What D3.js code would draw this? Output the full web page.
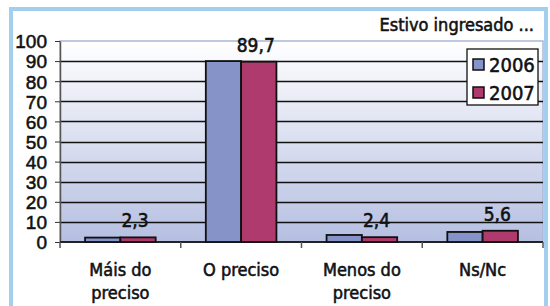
<!DOCTYPE html>
<html>
<head>
<meta charset="utf-8">
<script src="https://cdn.jsdelivr.net/npm/d3@7"></script>
<style>
  body { margin: 0; background: #fff; }
  svg { display: block; font-family: "Liberation Sans Narrow", "DejaVu Sans Condensed", sans-serif; }
  svg text { stroke: #111; stroke-width: 0.55px; }
</style>
</head>
<body>
<div id="viz"></div>
<script>
const categories = [['Máis do', 'preciso'], ['O preciso'], ['Menos do', 'preciso'], ['Ns/Nc']];
const years = ['2006', '2007'];
const values2006 = [2.2, 90.0, 3.5, 5.0];
const values2007 = [2.3, 89.7, 2.4, 5.6];
const labels2007 = ['2,3', '89,7', '2,4', '5,6'];
const yTicks = [0, 10, 20, 30, 40, 50, 60, 70, 80, 90, 100];
const title = 'Estivo ingresado ...';

const width = 550;
const height = 306;
const margin = {top: 41, right: 7, bottom: 64, left: 60};
const colors = ['#8593c9', '#af3a6d'];

const svg = d3.select('#viz')
  .append('svg')
    .attr('width', width)
    .attr('height', height);

// light blue frame
svg.append('rect')
  .attr('x', 11).attr('y', 9)
  .attr('width', 535).attr('height', 320)
  .attr('fill', 'none')
  .attr('stroke', '#a3cfee')
  .attr('stroke-width', 4);

const grad = svg.append('defs').append('linearGradient')
  .attr('id', 'bg').attr('x1', 0).attr('y1', 0).attr('x2', 0).attr('y2', 1);
grad.append('stop').attr('offset', 0).attr('stop-color', '#ffffff');
grad.append('stop').attr('offset', 1).attr('stop-color', '#b5bfe1');

const x0 = d3.scaleBand()
  .domain(d3.range(categories.length))
  .range([margin.left, width - margin.right]);
const x1 = d3.scaleBand()
  .domain(years)
  .range([0, x0.bandwidth()])
  .paddingOuter(0.71)
  .paddingInner(0);
const y = d3.scaleLinear()
  .domain([0, 100])
  .range([height - margin.bottom, margin.top]);

// plot background
svg.append('rect')
  .attr('x', margin.left).attr('y', margin.top)
  .attr('width', width - margin.right - margin.left)
  .attr('height', y(0) - margin.top)
  .attr('fill', 'url(#bg)')
  .attr('stroke', '#a9b6d4')
  .attr('stroke-width', 1.5);

// gridlines
svg.append('g')
  .selectAll('line')
  .data(yTicks.filter(d => d > 0 && d < 100))
  .join('line')
    .attr('x1', margin.left)
    .attr('x2', width - margin.right)
    .attr('y1', d => Math.round(y(d)) + 0.5)
    .attr('y2', d => Math.round(y(d)) + 0.5)
    .attr('stroke', '#111')
    .attr('stroke-width', 1.4);

// y axis
const yAxisGroup = svg.append('g')
  .attr('transform', `translate(${margin.left},0)`)
  .call(d3.axisLeft(y).tickValues(yTicks).tickSize(5).tickSizeOuter(0).tickPadding(8));
yAxisGroup.select('.domain').attr('stroke', '#555').attr('stroke-width', 1.5);
yAxisGroup.selectAll('.tick line').attr('stroke', '#333');
yAxisGroup.selectAll('.tick text')
  .attr('fill', '#111')
  .style('font-size', '19px')
  .attr('dy', '0.36em');

// x axis line and category ticks
const xAxisGroup = svg.append('g');
xAxisGroup.append('line')
  .attr('x1', margin.left).attr('x2', width - margin.right)
  .attr('y1', y(0)).attr('y2', y(0))
  .attr('stroke', '#222').attr('stroke-width', 1.8);
xAxisGroup.selectAll('.cat-tick')
  .data(d3.range(categories.length + 1))
  .join('line')
    .attr('class', 'cat-tick')
    .attr('x1', i => i < categories.length ? x0(i) : x0(i - 1) + x0.bandwidth())
    .attr('x2', i => i < categories.length ? x0(i) : x0(i - 1) + x0.bandwidth())
    .attr('y1', y(0)).attr('y2', y(0) + 6)
    .attr('stroke', '#555').attr('stroke-width', 1.5);

// category labels
xAxisGroup.selectAll('.cat-label')
  .data(categories)
  .join('text')
    .attr('class', 'cat-label')
    .attr('x', (d, i) => x0(i) + x0.bandwidth() / 2)
    .attr('y', 276)
    .attr('text-anchor', 'middle')
    .attr('fill', '#111')
    .style('font-size', '18px')
  .selectAll('tspan')
  .data(d => d)
  .join('tspan')
    .attr('x', function() { return d3.select(this.parentNode).attr('x'); })
    .attr('dy', (d, i) => i === 0 ? 0 : 23)
    .text(d => d);

// bars
const series = [values2006, values2007];
const barGroups = svg.append('g')
  .selectAll('g')
  .data(categories.map((c, i) => i))
  .join('g')
    .attr('transform', i => `translate(${x0(i)},0)`);
barGroups.selectAll('rect')
  .data(i => years.map((yr, k) => ({yr, k, v: series[k][i]})))
  .join('rect')
    .attr('x', d => x1(d.yr))
    .attr('y', d => y(d.v))
    .attr('width', x1.bandwidth())
    .attr('height', d => y(0) - y(d.v))
    .attr('fill', d => colors[d.k])
    .attr('stroke', '#111')
    .attr('stroke-width', 1.8);

// value labels on 2007
svg.append('g')
  .selectAll('text')
  .data(values2007)
  .join('text')
    .attr('x', (d, i) => x0(i) + x1('2007') + x1.bandwidth() / 2 - 3)
    .attr('y', d => y(d) - 10)
    .attr('text-anchor', 'middle')
    .attr('fill', '#111')
    .style('font-size', '19px')
    .text((d, i) => labels2007[i]);

// title
svg.append('text')
  .attr('x', 534).attr('y', 31)
  .attr('text-anchor', 'end')
  .attr('fill', '#111')
  .style('font-size', '18px')
  .text(title);

// legend
const legend = svg.append('g').attr('transform', 'translate(467,49)');
legend.append('rect')
  .attr('width', 71).attr('height', 56)
  .attr('fill', '#fff').attr('stroke', '#111').attr('stroke-width', 1.3);
const items = legend.selectAll('g')
  .data(years)
  .join('g')
    .attr('transform', (d, i) => `translate(6,${10 + i * 28})`);
items.append('rect')
  .attr('width', 11).attr('height', 11)
  .attr('fill', (d, i) => colors[i])
  .attr('stroke', '#111').attr('stroke-width', 1.5);
items.append('text')
  .attr('x', 16).attr('y', 6)
  .attr('dy', '0.36em')
  .attr('fill', '#111')
  .style('font-size', '20px')
  .text(d => d);
</script>
</body>
</html>
